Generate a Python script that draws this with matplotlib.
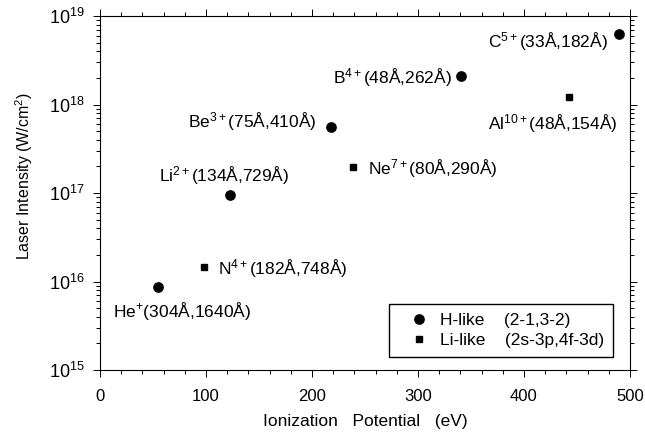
import numpy as np
import matplotlib
matplotlib.use('Agg')
import matplotlib.pyplot as plt
from matplotlib.ticker import LogLocator, MultipleLocator, NullFormatter

plt.rcParams['font.family'] = ['Liberation Sans', 'DejaVu Sans']
plt.rcParams['mathtext.fontset'] = 'custom'
plt.rcParams['mathtext.rm'] = 'Liberation Sans'
plt.rcParams['mathtext.it'] = 'Liberation Sans'

# H-like ions (2-1, 3-2)
h_ip = [54.4, 122.4, 217.7, 340.2, 490.0]
h_int = [8.7e15, 9.6e16, 5.5e17, 2.1e18, 6.3e18]
# Li-like ions (2s-3p, 4f-3d)
li_ip = [97.9, 239.1, 442.0]
li_int = [1.46e16, 1.95e17, 1.22e18]

labels = ['He$^{+}$(304Å,1640Å)', 'Li$^{2+}$(134Å,729Å)', 'Be$^{3+}$(75Å,410Å)',
          'B$^{4+}$(48Å,262Å)', 'C$^{5+}$(33Å,182Å)',
          'N$^{4+}$(182Å,748Å)', 'Ne$^{7+}$(80Å,290Å)', 'Al$^{10+}$(48Å,154Å)']
# where each label sits (left edge, baseline)
label_x = [12.3, 55.7, 83.0, 219.8, 366.0, 111.3, 252.8, 366.0]
label_y = [4.0e15, 1.34e17, 5.4e17, 1.73e18, 4.4e18, 1.18e16, 1.6e17, 5.25e17]

fig = plt.figure(figsize=(6.45, 4.36), dpi=100)
ax = fig.add_axes([100/645, 66/436, 530/645, 354/436])

ax.plot(h_ip, h_int, 'o', color='black', ms=6.7, label='H-like    (2-1,3-2)')
ax.plot(li_ip, li_int, 's', color='black', ms=5, label='Li-like    (2s-3p,4f-3d)')

for t, x, y in zip(labels, label_x, label_y):
    ax.text(x, y, t, fontsize=12.5, ha='left', va='baseline')

ax.set_yscale('log')
ax.set_xlim(0, 500)
ax.set_ylim(1e15, 1e19)
ax.xaxis.set_major_locator(MultipleLocator(100))
ax.xaxis.set_minor_locator(MultipleLocator(20))
ax.yaxis.set_major_locator(LogLocator(base=10, numticks=10))
ax.yaxis.set_minor_locator(LogLocator(base=10, subs=np.arange(2, 10), numticks=10))
ax.yaxis.set_minor_formatter(NullFormatter())

for s in ax.spines.values():
    s.set_linewidth(0.8)
ax.tick_params(which='both', direction='out', top=True, right=True, width=0.7)
ax.tick_params(which='major', length=5)
ax.tick_params(which='minor', length=3)
ax.tick_params(axis='x', labelsize=12, pad=9)
ax.tick_params(axis='y', labelsize=13, pad=6)

ax.set_xlabel('Ionization   Potential   (eV)', fontsize=12.5, labelpad=7)
ax.set_ylabel('Laser Intensity (W/cm$^{2}$)', fontsize=11.5)
ax.yaxis.set_label_coords(-0.123, 0.548)

leg = ax.legend(loc='lower right', bbox_to_anchor=(0.968, 0.0367), borderaxespad=0,
                fancybox=False, edgecolor='black', framealpha=1, fontsize=12.5,
                borderpad=0.5, handlelength=2.4, handletextpad=0.05, labelspacing=0.3)
leg.get_frame().set_linewidth(1.0)

fig.savefig('out.png', dpi=100)
